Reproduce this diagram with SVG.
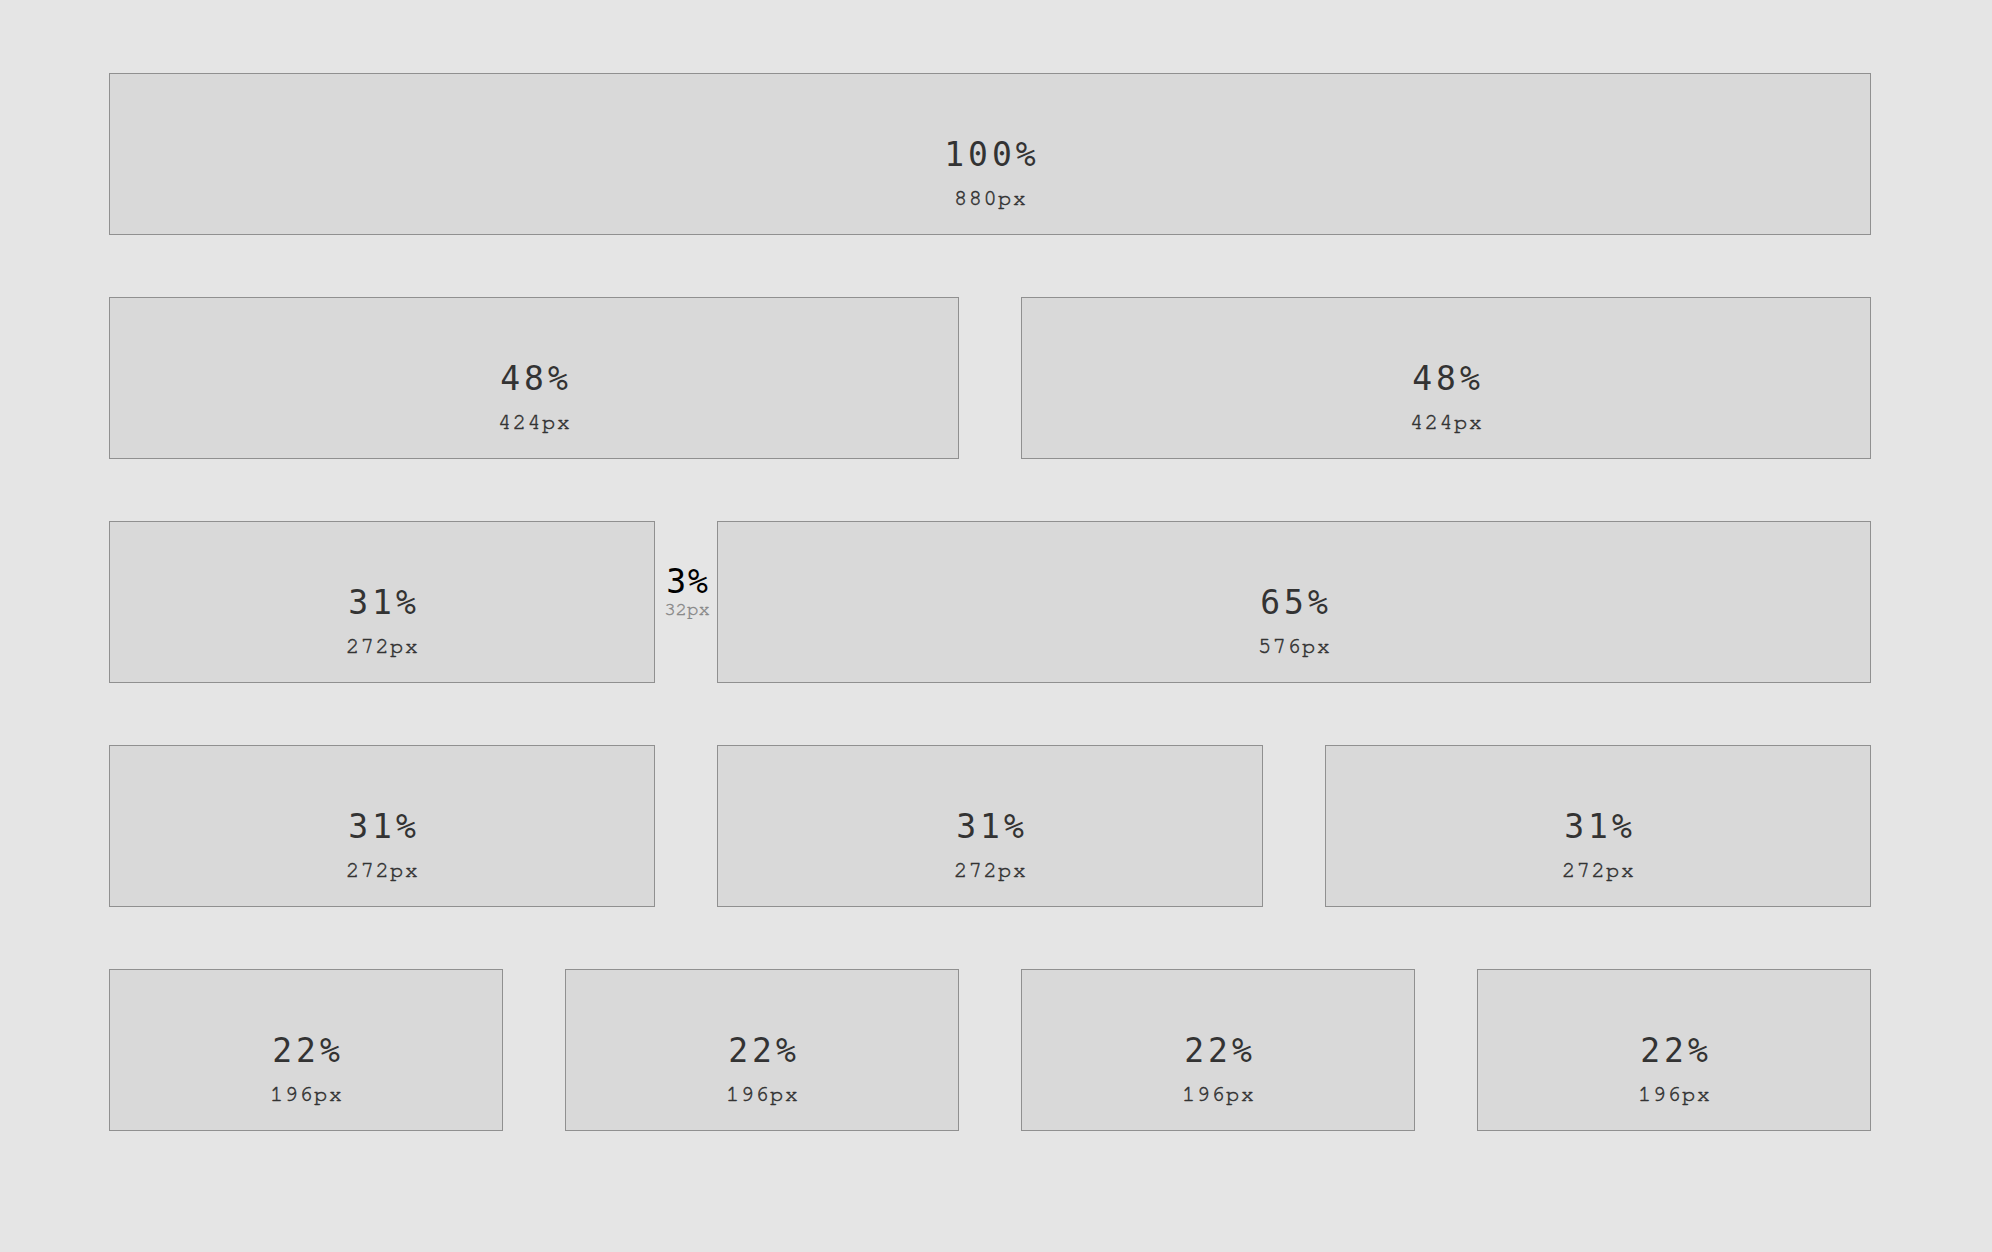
<svg xmlns="http://www.w3.org/2000/svg" width="1992" height="1252" viewBox="0 0 1992 1252">
<style>
.box{fill:#d9d9d9;stroke:#909090;stroke-width:1}
.pct{font-family:"DejaVu Sans Mono",monospace;font-size:33px;fill:#333;text-anchor:middle;letter-spacing:4px}
.px{font-family:"Nimbus Mono PS","FreeMono","Courier","Liberation Mono",monospace;font-size:22px;fill:#333;stroke:#333;stroke-width:0.5px;text-anchor:middle;letter-spacing:1.5px}
.gpct{font-family:"DejaVu Sans Mono",monospace;font-size:33px;fill:#000;text-anchor:middle;letter-spacing:2px}
.gpx{font-family:"Nimbus Mono PS","FreeMono","Courier","Liberation Mono",monospace;font-size:19px;fill:#888;stroke:#888;stroke-width:0.4px;text-anchor:middle}
</style>
<rect x="0" y="0" width="1992" height="1252" fill="#e5e5e5"/>
<g id="r1c1"><rect class="box" x="109.5" y="73.5" width="1761" height="161"/><text class="pct" x="992" y="166">100%</text><text class="px" x="990.75" y="204.5">880px</text></g>
<g id="r2c1"><rect class="box" x="109.5" y="297.5" width="849" height="161"/><text class="pct" x="536" y="390">48%</text><text class="px" x="534.75" y="428.5">424px</text></g>
<g id="r2c2"><rect class="box" x="1021.5" y="297.5" width="849" height="161"/><text class="pct" x="1448" y="390">48%</text><text class="px" x="1446.75" y="428.5">424px</text></g>
<g id="r3c1"><rect class="box" x="109.5" y="521.5" width="545" height="161"/><text class="pct" x="384" y="614">31%</text><text class="px" x="382.75" y="652.5">272px</text></g>
<g id="gap"><text class="gpct" x="688" y="593">3%</text><text class="gpx" x="687" y="615">32px</text></g>
<g id="r3c2"><rect class="box" x="717.5" y="521.5" width="1153" height="161"/><text class="pct" x="1296" y="614">65%</text><text class="px" x="1294.75" y="652.5">576px</text></g>
<g id="r4c1"><rect class="box" x="109.5" y="745.5" width="545" height="161"/><text class="pct" x="384" y="838">31%</text><text class="px" x="382.75" y="876.5">272px</text></g>
<g id="r4c2"><rect class="box" x="717.5" y="745.5" width="545" height="161"/><text class="pct" x="992" y="838">31%</text><text class="px" x="990.75" y="876.5">272px</text></g>
<g id="r4c3"><rect class="box" x="1325.5" y="745.5" width="545" height="161"/><text class="pct" x="1600" y="838">31%</text><text class="px" x="1598.75" y="876.5">272px</text></g>
<g id="r5c1"><rect class="box" x="109.5" y="969.5" width="393" height="161"/><text class="pct" x="308" y="1062">22%</text><text class="px" x="306.75" y="1100.5">196px</text></g>
<g id="r5c2"><rect class="box" x="565.5" y="969.5" width="393" height="161"/><text class="pct" x="764" y="1062">22%</text><text class="px" x="762.75" y="1100.5">196px</text></g>
<g id="r5c3"><rect class="box" x="1021.5" y="969.5" width="393" height="161"/><text class="pct" x="1220" y="1062">22%</text><text class="px" x="1218.75" y="1100.5">196px</text></g>
<g id="r5c4"><rect class="box" x="1477.5" y="969.5" width="393" height="161"/><text class="pct" x="1676" y="1062">22%</text><text class="px" x="1674.75" y="1100.5">196px</text></g>
<g id="connectors"></g>
</svg>
